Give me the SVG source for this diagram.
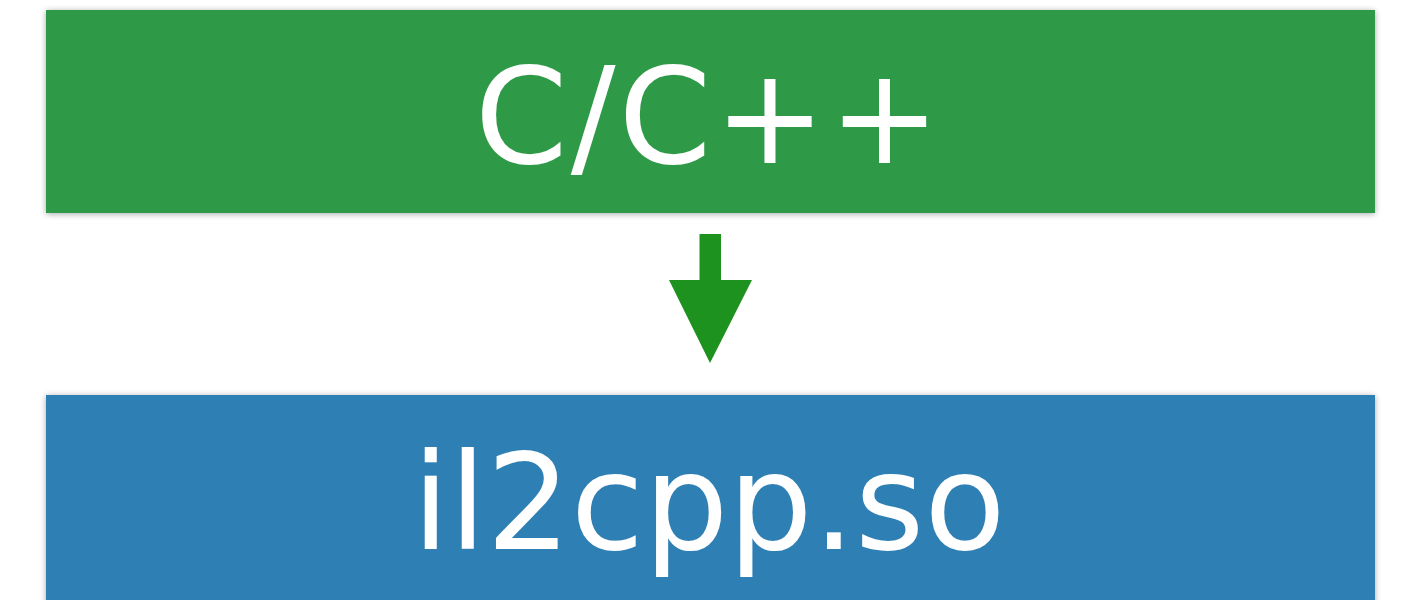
<svg xmlns="http://www.w3.org/2000/svg" width="1409" height="600" viewBox="0 0 1409 600">
  <style>
    .box-label { font-family: "DejaVu Sans", Verdana, sans-serif; font-size: 133px; fill: #ffffff; text-anchor: middle; }
  </style>
  <defs>
    <filter id="soft-shadow" x="-5%" y="-10%" width="110%" height="125%">
      <feGaussianBlur in="SourceAlpha" stdDeviation="3"/>
      <feOffset dx="0" dy="1" result="blur"/>
      <feComponentTransfer><feFuncA type="linear" slope="0.35"/></feComponentTransfer>
      <feMerge><feMergeNode/><feMergeNode in="SourceGraphic"/></feMerge>
    </filter>
  </defs>
  <rect width="1409" height="600" fill="#ffffff"/>

  <g id="node-source">
    <rect x="46" y="10" width="1329" height="203" fill="#2f9a46" filter="url(#soft-shadow)"/>
    <text class="box-label" x="709" y="163" letter-spacing="3">C/C++</text>
  </g>

  <g id="node-library">
    <rect x="46" y="395" width="1329" height="210" fill="#2f7fb4" filter="url(#soft-shadow)"/>
    <text class="box-label" x="709" y="549">il2cpp.so</text>
  </g>

  <g id="connectors">
    <path d="M699.5 234 H721 V280 H752 L710 363 L669 280 H699.5 Z" fill="#1e921f"/>
  </g>
</svg>
